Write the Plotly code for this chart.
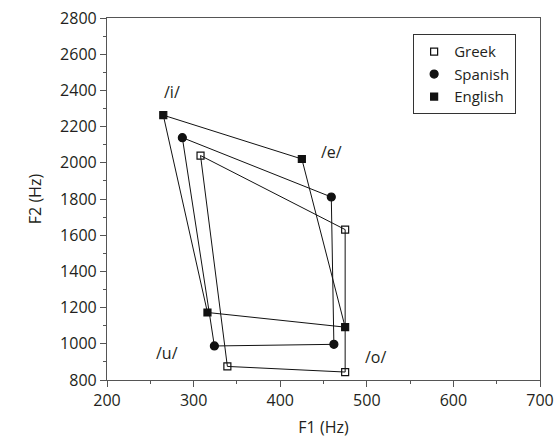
import plotly.graph_objects as go

vowels = ["/i/", "/e/", "/o/", "/u/"]
languages = ["Greek", "Spanish", "English"]
f1_greek = [308, 475, 475, 339]
f2_greek = [2040, 1631, 844, 875]
f1_spanish = [287, 459, 462, 324]
f2_spanish = [2139, 1811, 997, 988]
f1_english = [265, 425, 475, 316]
f2_english = [2263, 2021, 1092, 1173]

label_text = ["/i/", "/e/", "/u/", "/o/"]
label_f1 = [275, 459, 269, 510]
label_f2 = [2389, 2060, 947, 925]

x_ticks = [200, 300, 400, 500, 600, 700]
y_ticks = [800, 1000, 1200, 1400, 1600, 1800, 2000, 2200, 2400, 2600, 2800]

data = {
    "Greek": (f1_greek, f2_greek, "square-open", 7),
    "Spanish": (f1_spanish, f2_spanish, "circle", 8),
    "English": (f1_english, f2_english, "square", 7),
}

FONT = "Open Sans"
TXT = "#231f20"

fig = go.Figure()
# polygon lines
for lang in languages:
    f1, f2, sym, sz = data[lang]
    fig.add_trace(go.Scatter(x=f1 + [f1[0]], y=f2 + [f2[0]], mode="lines",
                             line=dict(color="#111", width=1), showlegend=False,
                             hoverinfo="skip"))
# markers
for lang in languages:
    f1, f2, sym, sz = data[lang]
    fig.add_trace(go.Scatter(x=f1, y=f2, mode="markers", name=lang,
                             marker=dict(symbol=sym, size=sz, color="#111",
                                         line=dict(color="#111", width=1.2)),
                             text=vowels))

for t, x, y in zip(label_text, label_f1, label_f2):
    fig.add_annotation(x=x, y=y, text=t, showarrow=False,
                       font=dict(family=FONT, size=16, color=TXT))

axis_common = dict(showgrid=False, zeroline=False, showline=True, linecolor="#555",
                   linewidth=1.2, mirror=True, ticks="outside", ticklen=6,
                   tickcolor="#555", tickwidth=1.2, automargin=False,
                   tickfont=dict(family=FONT, size=16, color=TXT))

fig.update_layout(
    width=554, height=439,
    margin=dict(l=107, r=14, t=18, b=59),
    paper_bgcolor="white", plot_bgcolor="white",
    font=dict(family=FONT, size=16, color=TXT),
    xaxis=dict(range=[200, 700], tickvals=x_ticks,
               title=dict(text="F1 (Hz)", font=dict(family=FONT, size=16, color=TXT), standoff=11),
               minor=dict(dtick=50, tick0=200, ticks="outside", ticklen=3, tickcolor="#555"),
               **axis_common),
    yaxis=dict(range=[800, 2800], tickvals=y_ticks,
               title=dict(text="F2 (Hz)", font=dict(family=FONT, size=16, color=TXT), standoff=14),
               minor=dict(dtick=100, tick0=800, ticks="outside", ticklen=3, tickcolor="#555"),
               **axis_common),
    legend=dict(x=0.707, y=0.955, xanchor="left", yanchor="top",
                bordercolor="#333", borderwidth=1, bgcolor="white",
                font=dict(family=FONT, size=15, color=TXT),
                itemwidth=30, tracegroupgap=0),
    showlegend=True,
)

fig.write_html("out.html", config={"displayModeBar": False},
               post_script="document.body.style.margin='0';")
